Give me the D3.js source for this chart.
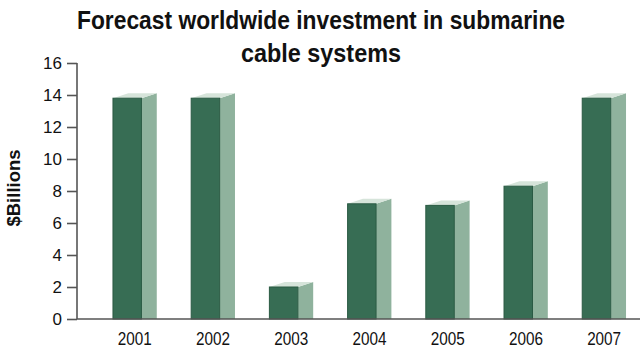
<!DOCTYPE html>
<html>
<head>
<meta charset="utf-8">
<script src="https://cdn.jsdelivr.net/npm/d3@7"></script>
<style>
  body { margin: 0; background: #fff; }
  text { font-family: "Liberation Sans Narrow", "Arial Narrow", "Liberation Sans", sans-serif; }
</style>
</head>
<body>
<script>
// values
var years = ["2001", "2002", "2003", "2004", "2005", "2006", "2007"];
var investment = [13.8, 13.8, 2.0, 7.2, 7.1, 8.3, 13.8];
var yTicks = [0, 2, 4, 6, 8, 10, 12, 14, 16];
var titleLines = ["Forecast worldwide investment in submarine", "cable systems"];

function draw() {
    var w = 640;
    var h = 354;
    var svg = d3.select("body")
        .append("svg")
        .attr("width", w)
        .attr("height", h);

    var x = d3.scaleBand()
        .domain(years)
        .range([77, 662])
        .paddingInner(0.44)
        .paddingOuter(0.46);

    var y = d3.scaleLinear()
        .domain([0, 16])
        .range([319, 63]);

    var frontW = x.bandwidth() * 0.65;
    var depthX = x.bandwidth() - frontW;
    var depthY = 5;

    // title - condensed look, squeeze to the width of the original
    var titleWidths = [488, 160];
    svg.selectAll("text.title")
        .data(titleLines)
        .enter()
        .append("text")
        .attr("class", "title")
        .attr("x", 321)
        .attr("y", function(d, i) { return 29 + i * 33; })
        .attr("text-anchor", "middle")
        .attr("font-size", 26)
        .attr("font-weight", "bold")
        .attr("fill", "#111")
        .attr("textLength", function(d, i) { return titleWidths[i]; })
        .attr("lengthAdjust", "spacingAndGlyphs")
        .text(function(d) { return d; });

    // y axis
    var yAxis = d3.axisLeft(y)
        .tickValues(yTicks)
        .tickSize(10)
        .tickPadding(5);
    var gy = svg.append("g")
        .attr("transform", "translate(77,0)")
        .call(yAxis);
    gy.select(".domain").remove();
    gy.append("line")
        .attr("x1", 0).attr("x2", 0)
        .attr("y1", y(16)).attr("y2", y(0))
        .attr("stroke", "#555").attr("stroke-width", 1.6);
    gy.selectAll(".tick line").attr("stroke", "#555").attr("stroke-width", 1.6);
    gy.selectAll(".tick text")
        .attr("font-size", 17)
        .attr("fill", "#111")
        .attr("font-family", "\"Liberation Sans Narrow\", \"Liberation Sans\", sans-serif");

    // axis title
    svg.append("text")
        .attr("transform", "translate(20,188) rotate(-90)")
        .attr("text-anchor", "middle")
        .attr("font-size", 18)
        .attr("font-weight", "bold")
        .attr("fill", "#111")
        .attr("textLength", 77)
        .attr("lengthAdjust", "spacingAndGlyphs")
        .text("$Billions");

    // bars
    var bars = svg.selectAll("g.bar")
        .data(years)
        .enter()
        .append("g")
        .attr("class", "bar");

    // side face
    bars.append("path")
        .attr("fill", "#8fb29d")
        .attr("d", function(d, i) {
            var x0 = x(d) + frontW, top = y(investment[i]);
            return "M" + x0 + "," + top + "L" + (x0 + depthX) + "," + (top - depthY) +
                "L" + (x0 + depthX) + "," + y(0) + "L" + x0 + "," + y(0) + "Z";
        });
    // top face
    bars.append("path")
        .attr("fill", "#d6e4da")
        .attr("d", function(d, i) {
            var x0 = x(d), top = y(investment[i]);
            return "M" + x0 + "," + top + "L" + (x0 + depthX) + "," + (top - depthY) +
                "L" + (x0 + frontW + depthX) + "," + (top - depthY) +
                "L" + (x0 + frontW) + "," + top + "Z";
        });
    // front face
    bars.append("rect")
        .attr("x", function(d) { return x(d); })
        .attr("y", function(d, i) { return y(investment[i]); })
        .attr("width", frontW)
        .attr("height", function(d, i) { return y(0) - y(investment[i]); })
        .attr("fill", "#376d54")
        .attr("stroke", "#2a5a43")
        .attr("stroke-width", 1);

    // baseline
    svg.append("line")
        .attr("x1", 77).attr("x2", w)
        .attr("y1", y(0)).attr("y2", y(0))
        .attr("stroke", "#555").attr("stroke-width", 1.6);

    // year labels
    svg.selectAll("text.year")
        .data(years)
        .enter()
        .append("text")
        .attr("class", "year")
        .attr("x", function(d) { return x(d) + x.bandwidth() / 2; })
        .attr("y", 345)
        .attr("text-anchor", "middle")
        .attr("font-size", 18)
        .attr("fill", "#111")
        .attr("textLength", 34)
        .attr("lengthAdjust", "spacingAndGlyphs")
        .text(function(d) { return d; });
}

window.onload = draw;
</script>
</body>
</html>
